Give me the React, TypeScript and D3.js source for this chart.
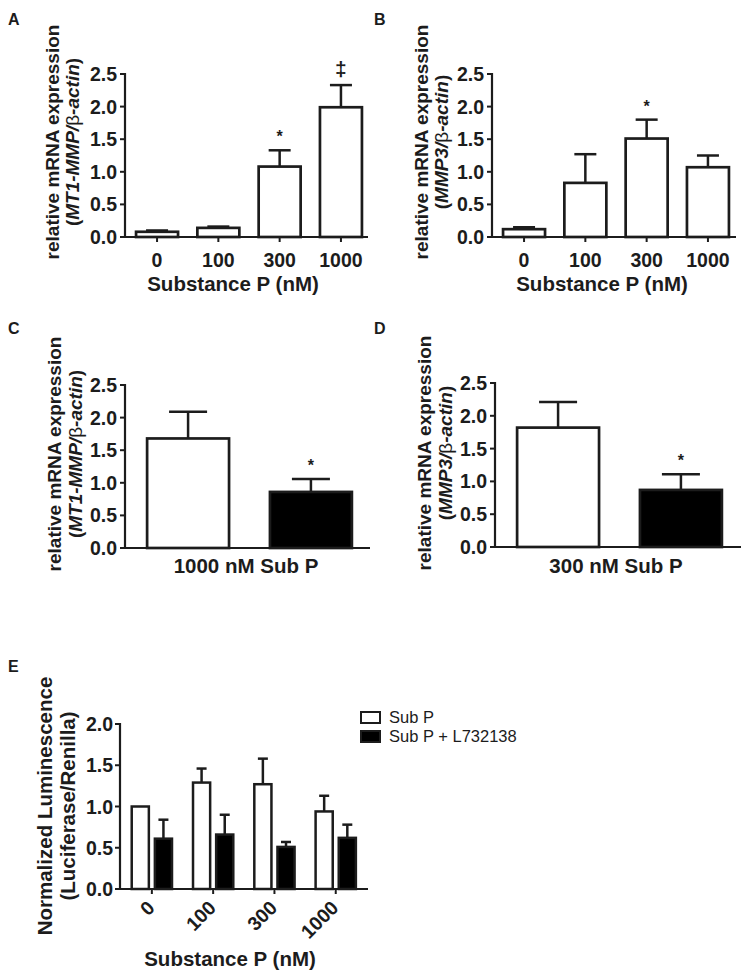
import React from 'react';
import * as d3 from 'd3';

// ---------- DATA ----------
const doseCats = ['0', '100', '300', '1000'];

const aMeans = [0.08, 0.14, 1.08, 1.99];
const aSem = [0.02, 0.02, 0.25, 0.34];
const aAnn = ['', '', '*', '‡'];

const bMeans = [0.12, 0.83, 1.51, 1.07];
const bSem = [0.03, 0.44, 0.29, 0.18];
const bAnn = ['', '', '*', ''];

const treatCats = ['Sub P', 'Sub P + L732138'];

const cMeans = [1.68, 0.86];
const cSem = [0.41, 0.2];
const cAnn = ['', '*'];

const dMeans = [1.82, 0.87];
const dSem = [0.39, 0.24];
const dAnn = ['', '*'];

const eSubP = [1.0, 1.29, 1.27, 0.94];
const eSubPSem = [0, 0.17, 0.31, 0.19];
const eAntag = [0.61, 0.66, 0.51, 0.62];
const eAntagSem = [0.23, 0.24, 0.06, 0.16];

const mrnaTicks = [0, 0.5, 1.0, 1.5, 2.0, 2.5];
const lumTicks = [0, 0.5, 1.0, 1.5, 2.0];

const FONT = '"Liberation Sans", Arial, Helvetica, sans-serif';
const INK = '#1c1c1c';
const fmt = d3.format('.1f');
const TICK_FS = 19.5;
const TITLE_FS = 20.5;

function GeneLabel({ x1, x2, y, gene }: { x1: number; x2: number; y: number; gene: string }) {
  return (
    <g fill={INK} fontFamily={FONT} fontWeight="bold" fontSize={19}>
      <text transform={`translate(${x1},${y}) rotate(-90)`} textAnchor="middle">
        relative mRNA expression
      </text>
      <text transform={`translate(${x2},${y}) rotate(-90)`} textAnchor="middle">
        <tspan>(</tspan>
        <tspan fontStyle="italic">{gene}/</tspan>
        <tspan fontWeight="normal">β</tspan>
        <tspan fontStyle="italic">-actin</tspan>
        <tspan>)</tspan>
      </text>
    </g>
  );
}

type PanelProps = {
  cats: string[];
  means: number[];
  sems: number[];
  fills: string[];
  ann: string[];
  axisX: number;
  axisEnd: number;
  yTop: number;
  yBot: number;
  yMax: number;
  ticks: number[];
  band: [number, number];
  padIn: number;
  padOut: number;
  capHalf: number;
  showCatTicks: boolean;
  xTitle: string;
  xTitleX: number;
  xTitleY: number;
  letter: string;
  letterX: number;
  letterY: number;
  gene: string;
  labX1: number;
  labX2: number;
  labY: number;
};

function BarPanel(p: PanelProps) {
  const x = d3.scaleBand<string>().domain(p.cats).range(p.band).paddingInner(p.padIn).paddingOuter(p.padOut);
  const y = d3.scaleLinear().domain([0, p.yMax]).range([p.yBot, p.yTop]);
  const bw = x.bandwidth();
  return (
    <g>
      <text x={p.letterX} y={p.letterY} fontFamily={FONT} fontWeight="bold" fontSize={16} fill={INK}>
        {p.letter}
      </text>
      <GeneLabel x1={p.labX1} x2={p.labX2} y={p.labY} gene={p.gene} />
      {p.cats.map((c, i) => {
        const x0 = x(c)!;
        const cx = x0 + bw / 2;
        const top = y(p.means[i]);
        const errTop = y(p.means[i] + p.sems[i]);
        return (
          <g key={c}>
            <line x1={cx} x2={cx} y1={top} y2={errTop} stroke={INK} strokeWidth={2.5} />
            <line x1={cx - p.capHalf} x2={cx + p.capHalf} y1={errTop} y2={errTop} stroke={INK} strokeWidth={2.5} />
            <rect x={x0} y={top} width={bw} height={p.yBot - top} fill={p.fills[i]} stroke={INK} strokeWidth={2.7} />
            {p.ann[i] && (
              <text
                x={cx}
                y={p.ann[i] === '*' ? errTop - 8 : errTop - 9}
                textAnchor="middle"
                fontFamily={FONT}
                fontWeight="bold"
                fontSize={p.ann[i] === '*' ? 16 : 21}
                fill={INK}
              >
                {p.ann[i]}
              </text>
            )}
            {p.showCatTicks && (
              <>
                <line x1={cx} x2={cx} y1={p.yBot} y2={p.yBot + 5} stroke={INK} strokeWidth={2} />
                <text x={cx} y={p.yBot + 30} textAnchor="middle" fontFamily={FONT} fontWeight="bold" fontSize={TICK_FS} fill={INK}>
                  {c}
                </text>
              </>
            )}
          </g>
        );
      })}
      <line x1={p.axisX} x2={p.axisX} y1={p.yTop - 1} y2={p.yBot + 1} stroke={INK} strokeWidth={2.2} />
      <line x1={p.axisX - 5} x2={p.axisEnd} y1={p.yBot} y2={p.yBot} stroke={INK} strokeWidth={2.2} />
      {p.ticks.map((t) => (
        <g key={t}>
          <line x1={p.axisX - 5} x2={p.axisX} y1={y(t)} y2={y(t)} stroke={INK} strokeWidth={2} />
          <text x={p.axisX - 8} y={y(t) + 7} textAnchor="end" fontFamily={FONT} fontWeight="bold" fontSize={TICK_FS} fill={INK}>
            {fmt(t)}
          </text>
        </g>
      ))}
      <text x={p.xTitleX} y={p.xTitleY} textAnchor="middle" fontFamily={FONT} fontWeight="bold" fontSize={TITLE_FS} fill={INK}>
        {p.xTitle}
      </text>
    </g>
  );
}

function PanelE() {
  const axisX = 120;
  const axisEnd = 368;
  const yTop = 724;
  const yBot = 889;
  const x = d3.scaleBand<string>().domain(doseCats).range([121, 366.6]).paddingInner(0.343).paddingOuter(0.175);
  const inner = d3.scaleBand<string>().domain(['subP', 'antag']).range([0, x.bandwidth()]).paddingInner(0.26);
  const y = d3.scaleLinear().domain([0, 2.0]).range([yBot, yTop]);
  const series = [
    { key: 'subP', vals: eSubP, sems: eSubPSem, fill: '#ffffff' },
    { key: 'antag', vals: eAntag, sems: eAntagSem, fill: '#000000' },
  ];
  const ibw = inner.bandwidth();
  return (
    <g>
      <text x={8} y={672} fontFamily={FONT} fontWeight="bold" fontSize={16} fill={INK}>E</text>
      <g fill={INK} fontFamily={FONT} fontWeight="bold" fontSize={20.5}>
        <text transform={`translate(52,806) rotate(-90)`} textAnchor="middle">Normalized Luminescence</text>
        <text transform={`translate(75,806) rotate(-90)`} textAnchor="middle">(Luciferase/Renilla)</text>
      </g>
      {doseCats.map((c, i) =>
        series.map((s) => {
          const x0 = x(c)! + inner(s.key)!;
          const cx = x0 + ibw / 2;
          const top = y(s.vals[i]);
          const errTop = y(s.vals[i] + s.sems[i]);
          return (
            <g key={c + s.key}>
              {s.sems[i] > 0 && (
                <>
                  <line x1={cx} x2={cx} y1={top} y2={errTop} stroke={INK} strokeWidth={2.5} />
                  <line x1={cx - 5} x2={cx + 5} y1={errTop} y2={errTop} stroke={INK} strokeWidth={2.5} />
                </>
              )}
              <rect x={x0} y={top} width={ibw} height={yBot - top} fill={s.fill} stroke={INK} strokeWidth={2.5} />
            </g>
          );
        })
      )}
      {doseCats.map((c) => {
        const cx = x(c)! + x.bandwidth() / 2;
        return (
          <g key={'t' + c}>
            <line x1={cx} x2={cx} y1={yBot} y2={yBot + 5} stroke={INK} strokeWidth={2} />
            <text
              transform={`translate(${cx + 4},${yBot + 20}) rotate(-45)`}
              textAnchor="end"
              fontFamily={FONT}
              fontWeight="bold"
              fontSize={TICK_FS}
              fill={INK}
            >
              {c}
            </text>
          </g>
        );
      })}
      <line x1={axisX} x2={axisX} y1={yTop - 1} y2={yBot + 1} stroke={INK} strokeWidth={2.2} />
      <line x1={axisX - 5} x2={axisEnd} y1={yBot} y2={yBot} stroke={INK} strokeWidth={2.2} />
      {lumTicks.map((t) => (
        <g key={t}>
          <line x1={axisX - 5} x2={axisX} y1={y(t)} y2={y(t)} stroke={INK} strokeWidth={2} />
          <text x={axisX - 7} y={y(t) + 7} textAnchor="end" fontFamily={FONT} fontWeight="bold" fontSize={TICK_FS} fill={INK}>
            {fmt(t)}
          </text>
        </g>
      ))}
      <text x={230} y={966} textAnchor="middle" fontFamily={FONT} fontWeight="bold" fontSize={TITLE_FS} fill={INK}>
        Substance P (nM)
      </text>
      {series.map((s, i) => (
        <g key={'lg' + s.key}>
          <rect x={361} y={712 + i * 19} width={19} height={11} fill={s.fill} stroke={INK} strokeWidth={2} />
          <text x={389} y={723 + i * 19} fontFamily={FONT} fontSize={16.5} fill={INK}>
            {treatCats[i]}
          </text>
        </g>
      ))}
    </g>
  );
}

export default function App() {
  const white4 = ['#ffffff', '#ffffff', '#ffffff', '#ffffff'];
  const wb = ['#ffffff', '#000000'];
  return (
    <svg width={750} height={977} style={{ position: 'absolute', left: 0, top: 0, background: '#fff' }}>
      <rect width={750} height={977} fill="#fff" />
      <BarPanel
        cats={doseCats} means={aMeans} sems={aSem} fills={white4} ann={aAnn}
        axisX={125} axisEnd={368} yTop={74} yBot={237} yMax={2.5} ticks={mrnaTicks}
        band={[126, 372]} padIn={0.315} padOut={0.164} capHalf={11} showCatTicks
        xTitle="Substance P (nM)" xTitleX={233} xTitleY={291}
        letter="A" letterX={8} letterY={25} gene="MT1-MMP" labX1={59} labX2={79} labY={142}
      />
      <BarPanel
        cats={doseCats} means={bMeans} sems={bSem} fills={white4} ann={bAnn}
        axisX={492} axisEnd={736} yTop={74} yBot={237} yMax={2.5} ticks={mrnaTicks}
        band={[493, 739]} padIn={0.315} padOut={0.164} capHalf={11} showCatTicks
        xTitle="Substance P (nM)" xTitleX={602} xTitleY={291}
        letter="B" letterX={374} letterY={25} gene="MMP3" labX1={428} labX2={448} labY={142}
      />
      <BarPanel
        cats={treatCats} means={cMeans} sems={cSem} fills={wb} ann={cAnn}
        axisX={125} axisEnd={370} yTop={385} yBot={548} yMax={2.5} ticks={mrnaTicks}
        band={[125, 374]} padIn={0.333} padOut={0.18} capHalf={19} showCatTicks={false}
        xTitle="1000 nM Sub P" xTitleX={246} xTitleY={573}
        letter="C" letterX={8} letterY={334} gene="MT1-MMP" labX1={61} labX2={82} labY={454}
      />
      <BarPanel
        cats={treatCats} means={dMeans} sems={dSem} fills={wb} ann={dAnn}
        axisX={495} axisEnd={741} yTop={383} yBot={547} yMax={2.5} ticks={mrnaTicks}
        band={[495, 744]} padIn={0.333} padOut={0.18} capHalf={19} showCatTicks={false}
        xTitle="300 nM Sub P" xTitleX={616} xTitleY={573}
        letter="D" letterX={374} letterY={334} gene="MMP3" labX1={431} labX2={452} labY={453}
      />
      <PanelE />
    </svg>
  );
}
